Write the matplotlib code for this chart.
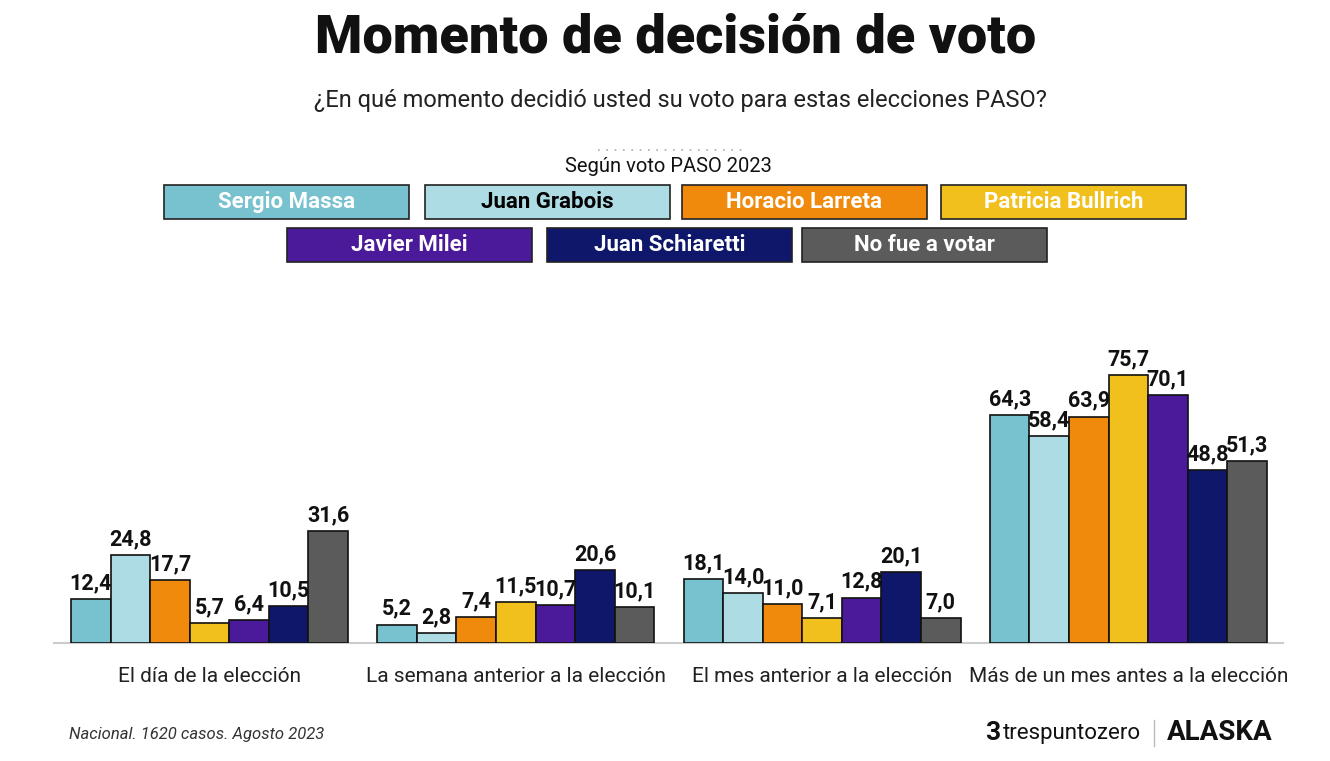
import matplotlib
matplotlib.use("Agg")
import matplotlib.pyplot as plt
from matplotlib.patches import Rectangle
import numpy as np

categories = ["El día de la elección", "La semana anterior a la elección",
              "El mes anterior a la elección", "Más de un mes antes a la elección"]
series = ["Sergio Massa", "Juan Grabois", "Horacio Larreta", "Patricia Bullrich",
          "Javier Milei", "Juan Schiaretti", "No fue a votar"]
values = {
    "Sergio Massa":      [12.4, 5.2, 18.1, 64.3],
    "Juan Grabois":      [24.8, 2.8, 14.0, 58.4],
    "Horacio Larreta":   [17.7, 7.4, 11.0, 63.9],
    "Patricia Bullrich": [5.7, 11.5, 7.1, 75.7],
    "Javier Milei":      [6.4, 10.7, 12.8, 70.1],
    "Juan Schiaretti":   [10.5, 20.6, 20.1, 48.8],
    "No fue a votar":    [31.6, 10.1, 7.0, 51.3],
}
colors = ["#78C1CF", "#ADDCE5", "#EF8A0C", "#F2C01D", "#4B1A9A", "#0E176A", "#5B5B5B"]
legend_text_colors = ["white", "black", "white", "white", "white", "white", "white"]

W, H = 1330, 761
fig = plt.figure(figsize=(W / 100, H / 100), dpi=100)
fig.patch.set_facecolor("white")

def fx(px):
    return px / W

def fy(py):
    return 1 - py / H

FONT = ["Roboto", "DejaVu Sans"]

# axes
ax_left, ax_right, ax_base, ax_top = 54, 1283, 643, 300
ax = fig.add_axes([fx(ax_left), fy(ax_base), fx(ax_right - ax_left), (ax_base - ax_top) / H])
n = len(series)
bw = 39.7 / 307.3
x = np.arange(len(categories))
for i, s in enumerate(series):
    pos = x + (i - (n - 1) / 2) * bw
    bars = ax.bar(pos, values[s], width=bw, color=colors[i], edgecolor="#111111", linewidth=1.2, zorder=3)
    for b, v in zip(bars, values[s]):
        ax.text(b.get_x() + b.get_width() / 2, v + 1.4, f"{v:.1f}".replace(".", ","),
                ha="center", va="bottom", fontsize=15.5, fontweight="bold", family=FONT,
                color="#111111", zorder=4)

ax.set_xlim(-0.508, 3.505)
ax.set_ylim(0, 343 / 3.54)
for sp in ["top", "right", "left"]:
    ax.spines[sp].set_visible(False)
ax.spines["bottom"].set_color("#CCCCCC")
ax.spines["bottom"].set_linewidth(1.5)
ax.set_yticks([])
ax.set_xticks(x)
ax.set_xticklabels(categories, fontsize=15, family=FONT, color="#222222")
ax.tick_params(axis="x", length=0, pad=17)
ax.set_facecolor("none")

# titles
fig.text(fx(676), fy(38), "Momento de decisión de voto", ha="center", va="center",
         fontsize=39, fontweight="black", family=FONT, color="#111111")
fig.text(fx(680), fy(101), "¿En qué momento decidió usted su voto para estas elecciones PASO?",
         ha="center", va="center", fontsize=17, family=FONT, color="#222222")

# dotted line and legend title
fig.add_artist(plt.Line2D([fx(598), fx(745)], [fy(150), fy(150)], transform=fig.transFigure,
                          color="#AAAAAA", linestyle=(0, (1, 4)), linewidth=1.2))
fig.text(fx(668), fy(166), "Según voto PASO 2023", ha="center", va="center",
         fontsize=14.5, family=FONT, color="#111111")

# legend boxes
box_pos = [(164, 185), (425, 185), (682, 185), (941, 185),
           (287, 228), (547, 228), (802, 228)]
bwid, bhei = 245, 34
for i, s in enumerate(series):
    x0, y0 = box_pos[i]
    fig.add_artist(Rectangle((fx(x0), fy(y0 + bhei)), fx(bwid), bhei / H, transform=fig.transFigure,
                             facecolor=colors[i], edgecolor="#222222", linewidth=1.2))
    fig.text(fx(x0 + bwid / 2), fy(y0 + bhei / 2), s, ha="center", va="center",
             fontsize=16, fontweight="bold", family=FONT, color=legend_text_colors[i])

# footer
fig.text(fx(69), fy(734), "Nacional. 1620 casos. Agosto 2023", ha="left", va="center",
         fontsize=12, style="italic", family=FONT, color="#333333")
fig.text(fx(985), fy(733), "3", ha="left", va="center", fontsize=19, fontweight="bold",
         family=FONT, color="#111111")
fig.text(fx(1003), fy(733), "trespuntozero", ha="left", va="center", fontsize=16,
         family=FONT, color="#111111")
fig.add_artist(plt.Line2D([fx(1154), fx(1154)], [fy(720), fy(746)], transform=fig.transFigure,
                          color="#BBBBBB", linewidth=1))
fig.text(fx(1167), fy(733), "ALASKA", ha="left", va="center", fontsize=20, fontweight="bold",
         family=FONT, color="#111111")

fig.savefig("out.png", dpi=100, facecolor="white")
